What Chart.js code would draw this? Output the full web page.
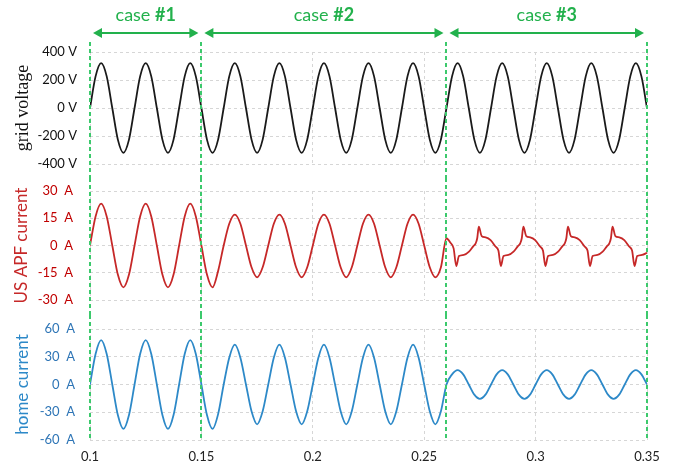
<!DOCTYPE html>
<html>
<head>
<meta charset="utf-8">
<script src="https://cdn.jsdelivr.net/npm/chart.js@4/dist/chart.umd.min.js"></script>
<style>
  body { margin: 0; background: #fff; }
  #wrap { position: relative; width: 682px; height: 471px; }
  canvas { position: absolute; left: 0; }
</style>
</head>
<body>
<div id="wrap">
  <canvas id="c1" width="682" height="178" style="top:0px"></canvas>
  <canvas id="c2" width="682" height="137" style="top:178px"></canvas>
  <canvas id="c3" width="682" height="156" style="top:315px"></canvas>
</div>
<script>
// case boundaries (s) and names
var caseBounds = [0.1, 0.15, 0.26, 0.35];
var caseNames = ['#1', '#2', '#3'];

// sample times (s) used by grid voltage and home current
var sampleTimes = [
  0.1, 0.1025, 0.105, 0.1075, 0.11, 0.1125, 0.115, 0.1175, 0.12, 0.1225, 0.125, 0.1275, 0.13, 0.1325, 0.135, 0.1375,
  0.14, 0.1425, 0.145, 0.1475, 0.15, 0.1525, 0.155, 0.1575, 0.16, 0.1625, 0.165, 0.1675, 0.17, 0.1725, 0.175, 0.1775,
  0.18, 0.1825, 0.185, 0.1875, 0.19, 0.1925, 0.195, 0.1975, 0.2, 0.2025, 0.205, 0.2075, 0.21, 0.2125, 0.215, 0.2175,
  0.22, 0.2225, 0.225, 0.2275, 0.23, 0.2325, 0.235, 0.2375, 0.24, 0.2425, 0.245, 0.2475, 0.25, 0.2525, 0.255, 0.2575,
  0.26, 0.2625, 0.265, 0.2675, 0.27, 0.2725, 0.275, 0.2775, 0.28, 0.2825, 0.285, 0.2875, 0.29, 0.2925, 0.295, 0.2975,
  0.3, 0.3025, 0.305, 0.3075, 0.31, 0.3125, 0.315, 0.3175, 0.32, 0.3225, 0.325, 0.3275, 0.33, 0.3325, 0.335, 0.3375,
  0.34, 0.3425, 0.345, 0.3475, 0.35
];

// grid voltage (V)
var gridVoltage = [
  0, 226, 320, 226, 0, -226, -320, -226,  0, 226, 320, 226, 0, -226, -320, -226,
  0, 226, 320, 226, 0, -226, -320, -226,  0, 226, 320, 226, 0, -226, -320, -226,
  0, 226, 320, 226, 0, -226, -320, -226,  0, 226, 320, 226, 0, -226, -320, -226,
  0, 226, 320, 226, 0, -226, -320, -226,  0, 226, 320, 226, 0, -226, -320, -226,
  0, 226, 320, 226, 0, -226, -320, -226,  0, 226, 320, 226, 0, -226, -320, -226,
  0, 226, 320, 226, 0, -226, -320, -226,  0, 226, 320, 226, 0, -226, -320, -226,
  0, 226, 320, 226, 0
];

// home current (A)
var homeCurrent = [
  0, 33, 48, 33, 0, -33, -48, -33,  0, 33, 48, 33, 0, -33, -48, -33,
  0, 33, 48, 33, 0, -33, -48, -32,  0, 29, 43, 29, 0, -29, -43, -29,
  0, 29, 43, 29, 0, -29, -43, -29,  0, 29, 43, 29, 0, -29, -43, -29,
  0, 29, 43, 29, 0, -29, -43, -29,  0, 29, 43, 29, 0, -29, -43, -29,
  0, 11, 15.5, 11, 0, -11, -15.5, -11,  0, 11, 15.5, 11, 0, -11, -15.5, -11,
  0, 11, 15.5, 11, 0, -11, -15.5, -11,  0, 11, 15.5, 11, 0, -11, -15.5, -11,
  0, 11, 15.5, 11, 0
];

// US APF current: times (s) and values (A), denser in case #3
var apfTimes = [
  0.1, 0.1025, 0.105, 0.1075, 0.11, 0.1125, 0.115, 0.1175, 0.12, 0.1225, 0.125, 0.1275, 0.13, 0.1325, 0.135, 0.1375,
  0.14, 0.1425, 0.145, 0.1475, 0.15, 0.1525, 0.155, 0.1575, 0.16, 0.1625, 0.165, 0.1675, 0.17, 0.1725, 0.175, 0.1775,
  0.18, 0.1825, 0.185, 0.1875, 0.19, 0.1925, 0.195, 0.1975, 0.2, 0.2025, 0.205, 0.2075, 0.21, 0.2125, 0.215, 0.2175,
  0.22, 0.2225, 0.225, 0.2275, 0.23, 0.2325, 0.235, 0.2375, 0.24, 0.2425, 0.245, 0.2475, 0.25, 0.2525, 0.255, 0.2575,
  0.26, 0.2617, 0.2632,
  0.2644, 0.2656, 0.2678, 0.2701, 0.2719, 0.2731, 0.2738, 0.2745, 0.2758, 0.2776, 0.2798, 0.2820, 0.2833,
  0.2844, 0.2856, 0.2878, 0.2901, 0.2919, 0.2931, 0.2938, 0.2945, 0.2958, 0.2976, 0.2998, 0.3020, 0.3033,
  0.3044, 0.3056, 0.3078, 0.3101, 0.3119, 0.3131, 0.3138, 0.3145, 0.3158, 0.3176, 0.3198, 0.3220, 0.3233,
  0.3244, 0.3256, 0.3278, 0.3301, 0.3319, 0.3331, 0.3338, 0.3345, 0.3358, 0.3376, 0.3398, 0.3420, 0.3433,
  0.3444, 0.3456, 0.3478, 0.35
];
var apfCurrent = [
  0, 16, 23, 16, 0, -16, -23, -16,  0, 16, 23, 16, 0, -16, -23, -16,
  0, 16, 23, 16, 0, -16, -23, -14,  0, 12, 17, 12, 0, -12, -17.5, -12,
  0, 12, 17, 12, 0, -12, -17.5, -12,  0, 12, 17, 12, 0, -12, -17.5, -12,
  0, 12, 17, 12, 0, -12, -17.5, -12,  0, 12, 17, 12, 0, -12, -17.5, -12,
  4, 1.6, -1.6,
  -11.3, -5.8, -5.2, -3.4, -0.6, 1.2, 4.0, 10.4, 5.2, 4.5, 3.0, -0.6, -2.8,
  -11.3, -5.8, -5.2, -3.4, -0.6, 1.2, 4.0, 10.4, 5.2, 4.5, 3.0, -0.6, -2.8,
  -11.3, -5.8, -5.2, -3.4, -0.6, 1.2, 4.0, 10.4, 5.2, 4.5, 3.0, -0.6, -2.8,
  -11.3, -5.8, -5.2, -3.4, -0.6, 1.2, 4.0, 10.4, 5.2, 4.5, 3.0, -0.6, -2.8,
  -11.3, -5.8, -5.2, -4
];

var green = '#22b14c';

// green dashed case separators, drawn on every panel
var caseLines = {
  id: 'caseLines',
  afterDatasetsDraw: function (chart, args, opts) {
    var ctx = chart.ctx, xs = chart.scales.x;
    ctx.save();
    ctx.strokeStyle = '#3cc96c';
    ctx.lineWidth = 2;
    ctx.setLineDash([4, 3]);
    caseBounds.forEach(function (b) {
      var x = Math.round(xs.getPixelForValue(b));
      ctx.beginPath();
      ctx.moveTo(x, opts.top);
      ctx.lineTo(x, opts.bottom);
      ctx.stroke();
    });
    ctx.restore();
  }
};

// "case #n" labels with double arrows, top panel only
var caseHeader = {
  id: 'caseHeader',
  afterDraw: function (chart) {
    var ctx = chart.ctx, xs = chart.scales.x;
    var y = 33, head = 9, half = 5;
    ctx.save();
    ctx.strokeStyle = green;
    ctx.fillStyle = green;
    ctx.lineWidth = 2;
    for (var i = 0; i < caseNames.length; i++) {
      var x0 = xs.getPixelForValue(caseBounds[i]) + 3;
      var x1 = xs.getPixelForValue(caseBounds[i + 1]) - 3;
      ctx.beginPath();
      ctx.moveTo(x0 + head - 1, y);
      ctx.lineTo(x1 - head + 1, y);
      ctx.stroke();
      ctx.beginPath();
      ctx.moveTo(x0, y); ctx.lineTo(x0 + head, y - half); ctx.lineTo(x0 + head, y + half); ctx.closePath();
      ctx.fill();
      ctx.beginPath();
      ctx.moveTo(x1, y); ctx.lineTo(x1 - head, y - half); ctx.lineTo(x1 - head, y + half); ctx.closePath();
      ctx.fill();

      var fNorm = '18px Lato', fBold = 'bold 18px Lato';
      ctx.font = fNorm;
      var w1 = ctx.measureText('case ').width;
      ctx.font = fBold;
      var w2 = ctx.measureText(caseNames[i]).width;
      var sx = (x0 + x1) / 2 - (w1 + w2) / 2;
      ctx.textBaseline = 'middle';
      ctx.textAlign = 'left';
      ctx.font = fNorm;
      ctx.fillText('case ', sx, 15);
      ctx.font = fBold;
      ctx.fillText(caseNames[i], sx + w1, 15);
    }
    ctx.restore();
  }
};

function makePanel(id, times, vals, cfg) {
  var pts = times.map(function (t, i) { return { x: t, y: vals[i] }; });
  var plugins = [caseLines];
  if (cfg.header) plugins.push(caseHeader);
  return new Chart(document.getElementById(id), {
    type: 'line',
    data: {
      datasets: [{
        data: pts,
        borderColor: cfg.color,
        borderWidth: 1.8,
        pointRadius: 0,
        fill: false,
        cubicInterpolationMode: 'monotone'
      }]
    },
    options: {
      responsive: false,
      animation: false,
      layout: { padding: { left: 0, right: 35, top: cfg.padTop, bottom: cfg.padBottom } },
      plugins: {
        legend: { display: false },
        tooltip: { enabled: false },
        caseLines: { top: cfg.lineTop, bottom: cfg.lineBottom }
      },
      scales: {
        x: {
          type: 'linear',
          min: 0.1,
          max: 0.35,
          afterFit: function (s) { s.height = cfg.showX ? 25 : 0; },
          ticks: {
            stepSize: 0.05,
            display: cfg.showX,
            padding: 9,
            color: '#222',
            font: { family: 'Lato', size: 13 },
            callback: function (v) { return String(Number(v.toFixed(2))); }
          },
          grid: { color: '#d6d6d6', drawTicks: false },
          border: { display: false, dash: [3, 3] }
        },
        y: {
          min: cfg.min,
          max: cfg.max,
          afterFit: function (s) { s.width = 90; },
          ticks: {
            stepSize: cfg.step,
            padding: 0,
            color: cfg.tickColor,
            font: { family: 'Lato', size: 13 },
            callback: function (v) { return v + cfg.unit; }
          },
          grid: { color: '#d6d6d6', drawTicks: true, tickLength: cfg.tickPad, tickColor: 'rgba(0,0,0,0)' },
          border: { display: false, dash: [3, 3] },
          title: {
            display: true,
            text: cfg.title,
            color: cfg.titleColor,
            font: cfg.titleFont,
            padding: { top: cfg.titlePad, bottom: 0 }
          }
        }
      }
    },
    plugins: plugins
  });
}

makePanel('c1', sampleTimes, gridVoltage, {
  color: '#1a1a1a', min: -400, max: 400, step: 200, unit: ' V',
  tickColor: '#111', tickPad: 13,
  title: 'grid voltage', titleColor: '#111',
  titleFont: { family: 'Liberation Serif', size: 18 }, titlePad: 12,
  padTop: 52, padBottom: 14, lineTop: 42, lineBottom: 178, showX: false, header: true
});

makePanel('c2', apfTimes, apfCurrent, {
  color: '#c62828', min: -30, max: 30, step: 15, unit: '  A',
  tickColor: '#c00000', tickPad: 17,
  title: 'US APF current', titleColor: '#c62828',
  titleFont: { family: 'Lato', size: 17 }, titlePad: 11,
  padTop: 13, padBottom: 15, lineTop: 0, lineBottom: 137, showX: false
});

makePanel('c3', sampleTimes, homeCurrent, {
  color: '#2d89c8', min: -60, max: 60, step: 30, unit: '  A',
  tickColor: '#2e75b6', tickPad: 15,
  title: 'home current', titleColor: '#2d89c8',
  titleFont: { family: 'Lato', size: 17 }, titlePad: 12,
  padTop: 14, padBottom: 6, lineTop: 0, lineBottom: 126, showX: true
});
</script>
</body>
</html>
